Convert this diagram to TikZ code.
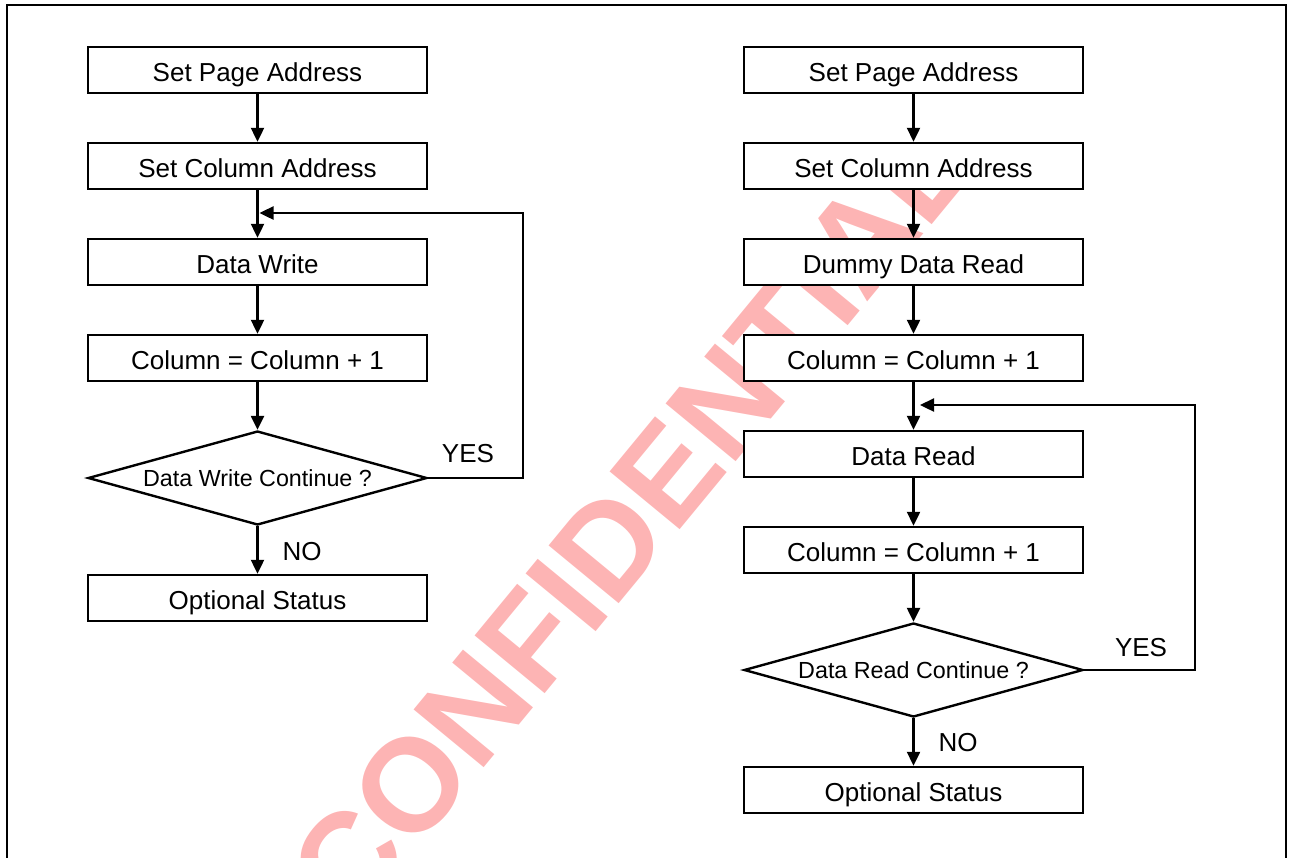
\documentclass[tikz,border=0pt]{standalone}
\usepackage{fontspec}
\setmainfont{Liberation Sans}
\usetikzlibrary{shapes.geometric,arrows.meta}
\definecolor{wmred}{RGB}{253,180,180}
\begin{document}
\begin{tikzpicture}[x=1pt,y=-1pt,
  box/.style={draw, line width=2.5pt, fill=white, minimum width=339pt,
    minimum height=46pt, inner sep=0pt, font=\fontsize{26}{26}\selectfont,
    text height=23pt, text depth=0pt},
  dec/.style={diamond, aspect=3.6, draw, line width=2.4pt, fill=white,
    minimum width=339pt, minimum height=94pt, inner sep=0pt,
    font=\fontsize{23.3}{23.3}\selectfont, text height=16pt, text depth=0pt},
  arr/.style={line width=2.4pt, -{Triangle[length=14pt,width=13pt]}},
  lbl/.style={font=\fontsize{26}{26}\selectfont, inner sep=0pt},
  frame/.style={line width=2.4pt}]
  \useasboundingbox (0,0) rectangle (1289,857);
  \clip (0,0) rectangle (1289,857);

  % outer frame (runs past the lower edge)
  \draw[frame] (7,5) rectangle (1286,900);

  % watermark
  \node[rotate=50.5, text=wmred, inner sep=0pt,
    font=\bfseries\fontsize{132}{132}\selectfont] (wm) at (630,519) {CONFIDENTIAL};

  % write sequence
  \node[box] (L1) at (257.5,70)  {Set Page Address};
  \node[box] (L2) at (257.5,166) {Set Column Address};
  \node[box] (L3) at (257.5,262) {Data Write};
  \node[box] (L4) at (257.5,358) {Column = Column + 1};
  \node[dec] (LD) at (257.5,478) {Data Write Continue ?};
  \node[box] (L5) at (257.5,598) {Optional Status};

  % read sequence
  \node[box] (R1) at (913.5,70)  {Set Page Address};
  \node[box] (R2) at (913.5,166) {Set Column Address};
  \node[box] (R3) at (913.5,262) {Dummy Data Read};
  \node[box] (R4) at (913.5,358) {Column = Column + 1};
  \node[box] (R5) at (913.5,454) {Data Read};
  \node[box] (R6) at (913.5,550) {Column = Column + 1};
  \node[dec] (RD) at (913.5,670) {Data Read Continue ?};
  \node[box] (R7) at (913.5,790) {Optional Status};

  % straight flow
  \draw[arr] (L1) -- (L2);
  \draw[arr] (L2) -- (L3);
  \draw[arr] (L3) -- (L4);
  \draw[arr] (L4) -- (LD);
  \draw[arr] (LD) -- (L5);

  \draw[arr] (R1) -- (R2);
  \draw[arr] (R2) -- (R3);
  \draw[arr] (R3) -- (R4);
  \draw[arr] (R4) -- (R5);
  \draw[arr] (R5) -- (R6);
  \draw[arr] (R6) -- (RD);
  \draw[arr] (RD) -- (R7);

  % loop-backs
  \coordinate (lp1) at (523,213);
  \coordinate (lt1) at (259.5,213);
  \draw[arr] (LD.east) -| (lp1) -- (lt1);
  \coordinate (lp2) at (1195,405);
  \coordinate (lt2) at (920,405);
  \draw[arr] (RD.east) -| (lp2) -- (lt2);

  % branch labels
  \node[lbl] (yes1) at (468,454) {YES};
  \node[lbl] (no1)  at (302,552) {NO};
  \node[lbl] (yes2) at (1141,648) {YES};
  \node[lbl] (no2)  at (958,743) {NO};
\end{tikzpicture}
\end{document}
